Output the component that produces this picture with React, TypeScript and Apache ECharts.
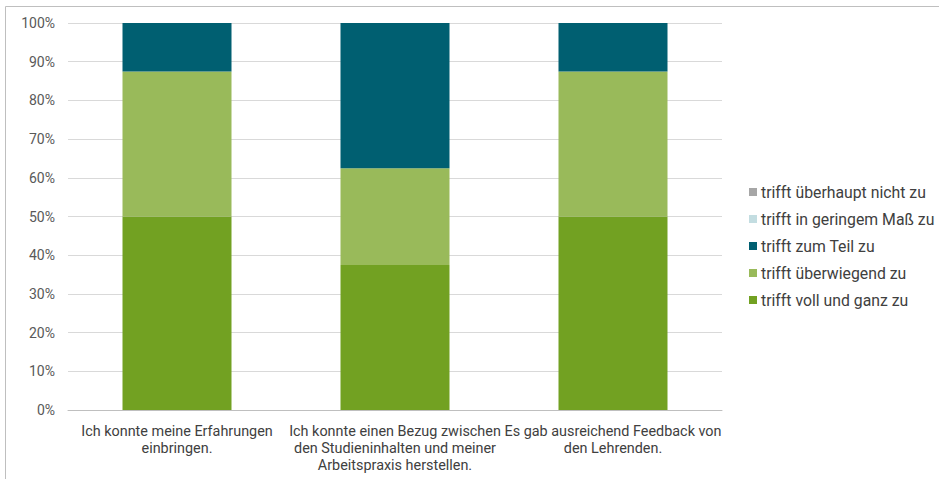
import React, { useEffect, useRef } from "react";
import * as echarts from "echarts";

const categories = [
  "Ich konnte meine Erfahrungen\neinbringen.",
  "Ich konnte einen Bezug zwischen\nden Studieninhalten und meiner\nArbeitspraxis herstellen.",
  "Es gab ausreichend Feedback von\nden Lehrenden.",
];

// Shares in percent, stacked from the bottom up
const seriesNames = [
  "trifft voll und ganz zu",
  "trifft überwiegend zu",
  "trifft zum Teil zu",
  "trifft in geringem Maß zu",
  "trifft überhaupt nicht zu",
];
const vollUndGanz = [50, 37.5, 50];
const ueberwiegend = [37.5, 25, 37.5];
const zumTeil = [12.5, 37.5, 12.5];
const geringem = [0, 0, 0];
const ueberhauptNicht = [0, 0, 0];
const seriesValues = [vollUndGanz, ueberwiegend, zumTeil, geringem, ueberhauptNicht];
const seriesColors = ["#72a122", "#99ba5a", "#005f71", "#c3dde1", "#a6a6a6"];

export default function App() {
  const ref = useRef<HTMLDivElement>(null);

  useEffect(() => {
    document.body.style.margin = "0";
    document.body.style.overflow = "hidden";
    const chart = echarts.init(ref.current!, null, { renderer: "svg" });
    chart.setOption({
      animation: false,
      backgroundColor: "#ffffff",
      textStyle: { fontFamily: "Roboto" },
      graphic: [
        {
          type: "rect",
          shape: { x: 5.5, y: 6.5, width: 1000, height: 1000 },
          style: { fill: "none", stroke: "#bfbfbf", lineWidth: 1 },
          silent: true,
        },
      ],
      grid: { left: 68, right: 217, top: 23, bottom: 69 },
      legend: {
        orient: "vertical",
        left: 744,
        top: 179,
        itemWidth: 8,
        itemHeight: 8,
        itemGap: 11,
        icon: "rect",
        data: [...seriesNames].reverse(),
        textStyle: { fontSize: 15.8, color: "#404040", lineHeight: 15, padding: [0, 0, 0, -1] },
      },
      xAxis: {
        type: "category",
        data: categories,
        axisTick: { show: false },
        axisLine: { lineStyle: { color: "#bfbfbf", width: 1 } },
        axisLabel: {
          interval: 0,
          fontSize: 14.4,
          color: "#404040",
          lineHeight: 17,
          margin: 13,
          align: "center",
        },
      },
      yAxis: {
        type: "value",
        min: 0,
        max: 100,
        interval: 10,
        axisLine: { show: false },
        axisTick: { show: false },
        splitLine: { lineStyle: { color: "#d9d9d9", width: 1 } },
        axisLabel: {
          formatter: "{value}%",
          fontSize: 14,
          color: "#595959",
          margin: 13,
        },
      },
      series: seriesNames.map((name, i) => ({
        name,
        type: "bar",
        stack: "total",
        barWidth: "50%",
        data: seriesValues[i],
        itemStyle: { color: seriesColors[i] },
      })),
    });
    return () => chart.dispose();
  }, []);

  return <div ref={ref} style={{ width: 939, height: 479 }} />;
}
